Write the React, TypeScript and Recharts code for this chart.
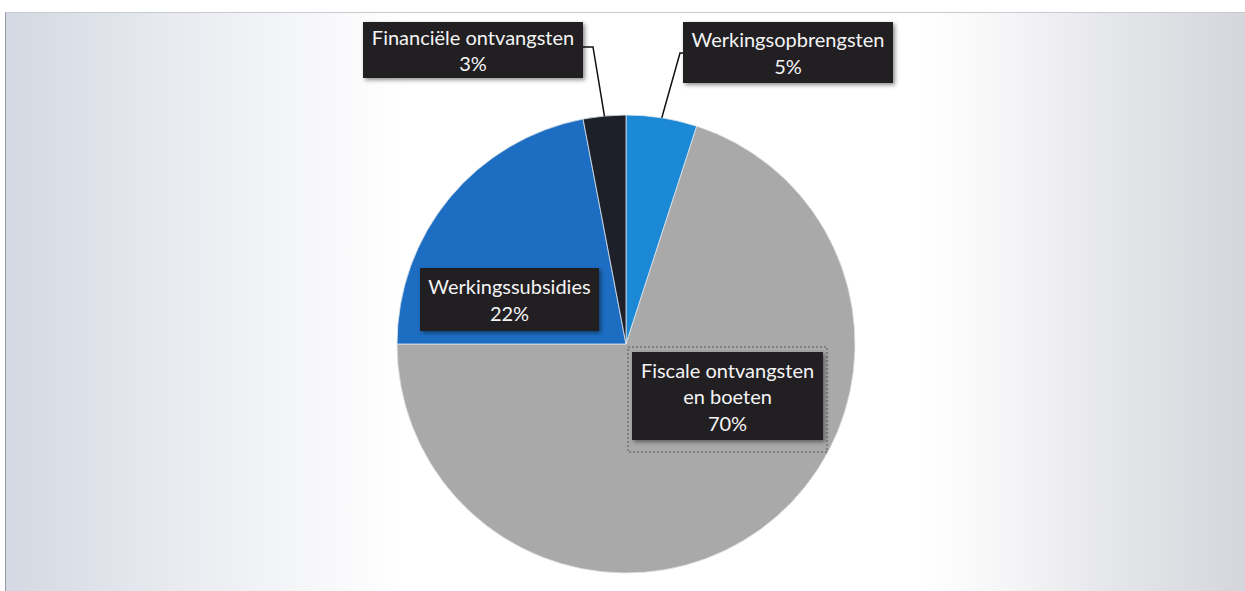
import React from 'react';
import { PieChart, Pie, Cell } from 'recharts';

const categories = ['Werkingsopbrengsten', 'Fiscale ontvangsten en boeten', 'Werkingssubsidies', 'Financiële ontvangsten'];
const values = [5, 70, 22, 3];
const labelLines = [
  ['Werkingsopbrengsten'],
  ['Fiscale ontvangsten', 'en boeten'],
  ['Werkingssubsidies'],
  ['Financiële ontvangsten'],
];
const colors = ['#1c89d6', '#a9a9aa', '#1d6ec3', '#1e2029'];

// label box layout relative to pie center: [dx, dy, width, height], leader elbow relative to center
const boxLayout = [
  { x: 57, y: -322, w: 210, h: 61, leader: [[54, -291], [57, -291]] },
  { x: 6, y: 8, w: 191, h: 88, dotted: true },
  { x: -206, y: -76, w: 179, h: 63 },
  { x: -263, y: -322, w: 220, h: 56, leader: [[-33, -297], [-43, -297]] },
];

const data = categories.map((name, i) => ({ name, value: values[i] }));

const FONT = 'Lato, "Noto Sans", sans-serif';

const renderLabel = (props: any) => {
  const { cx, cy, midAngle, outerRadius, percent, index } = props;
  const lay = boxLayout[index];
  const RAD = Math.PI / 180;
  const sx = cx + outerRadius * Math.cos(-midAngle * RAD);
  const sy = cy + outerRadius * Math.sin(-midAngle * RAD);
  const bx = cx + lay.x;
  const by = cy + lay.y;
  const lines = [...labelLines[index], `${Math.round(percent * 100)}%`];
  const lh = 26.5;
  const startY = by + lay.h / 2 - ((lines.length - 1) * lh) / 2;
  return (
    <g key={`lbl-${index}`}>
      {lay.leader && (
        <polyline
          points={`${sx},${sy} ${cx + lay.leader[0][0]},${cy + lay.leader[0][1]} ${cx + lay.leader[1][0]},${cy + lay.leader[1][1]}`}
          fill="none"
          stroke="#111"
          strokeWidth={1.5}
        />
      )}
      {lay.dotted && (
        <rect x={bx - 4} y={by - 5} width={lay.w + 8} height={lay.h + 17} fill="none" stroke="#555" strokeWidth={1} strokeDasharray="2 2" />
      )}
      <rect
        x={bx}
        y={by}
        width={lay.w}
        height={lay.h}
        fill="#221f23"
        style={{ filter: 'drop-shadow(2px 2px 2px rgba(0,0,0,0.45))' }}
      />
      {lines.map((t, i) => (
        <text
          key={i}
          x={bx + lay.w / 2}
          y={startY + i * lh}
          fill="#f4f4f4"
          fontFamily={FONT}
          fontSize={20}
          textAnchor="middle"
          dominantBaseline="central"
        >
          {t}
        </text>
      ))}
    </g>
  );
};

export default function App() {
  return (
    <div style={{ position: 'absolute', left: 0, top: 0, width: 1245, height: 591, background: '#ffffff', overflow: 'hidden' }}>
      <div
        style={{
          position: 'absolute',
          left: 5,
          top: 12,
          width: 1240,
          height: 579,
          borderLeft: '1px solid #9a9ca4',
          borderTop: '1px solid #c8cad2',
          background:
            'linear-gradient(to right, #d3d8e2 0%, #e3e6ec 10%, #f3f4f7 22%, #ffffff 32%, #ffffff 74%, #f5f5f7 81%, #e4e5e9 90%, #d5d6db 100%)',
        }}
      />
      <div style={{ position: 'absolute', left: 0, top: 0 }}>
        <PieChart width={1245} height={591} margin={{ top: 0, right: 0, bottom: 0, left: 0 }}>
          <Pie
            data={data}
            dataKey="value"
            nameKey="name"
            cx={626}
            cy={344}
            outerRadius={229}
            startAngle={90}
            endAngle={-270}
            stroke="#dbe3ec"
            strokeWidth={0.8}
            label={renderLabel}
            labelLine={false}
            isAnimationActive={false}
          >
            {data.map((d, i) => (
              <Cell key={d.name} fill={colors[i]} />
            ))}
          </Pie>
        </PieChart>
      </div>
    </div>
  );
}
